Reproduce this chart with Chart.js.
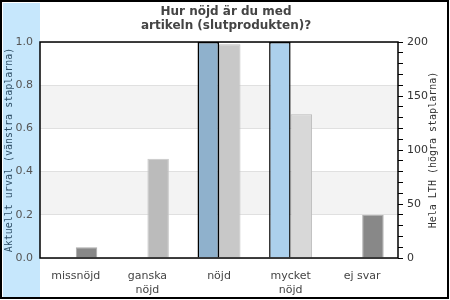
<!DOCTYPE html>
<html>
<head>
<meta charset="utf-8">
<script src="https://cdn.jsdelivr.net/npm/chart.js@4"></script>
<style>
  body { margin: 0; background: #fff; }
</style>
</head>
<body>
<canvas id="c" width="450" height="300"></canvas>
<script>
const categories = ["missnöjd", ["ganska", "nöjd"], "nöjd", ["mycket", "nöjd"], "ej svar"];
const urvalValues = [0, 0, 1, 1, 0];
const lthValues = [10, 92, 198, 133, 40];
const titleLines = ["Hur nöjd är du med", "artikeln (slutprodukten)?"];
const leftTitle = "Aktuellt urval (vänstra staplarna)";
const rightTitle = "Hela LTH (högra staplarna)";

// backgrounds, bands, frame and the rotated titles
const decor = {
  id: "decor",
  beforeDraw(chart) {
    const ctx = chart.ctx;
    const a = chart.chartArea;
    const y = chart.scales.y;
    ctx.save();
    ctx.fillStyle = "#fff";
    ctx.fillRect(0, 0, 450, 300);
    ctx.fillStyle = "#c6e7fc";
    ctx.fillRect(3, 3, a.left - 3, 294);
    ctx.strokeStyle = "#000";
    ctx.lineWidth = 2;
    ctx.strokeRect(1, 1, 447, 297);
    // alternating gray bands
    ctx.fillStyle = "#f3f3f3";
    [[0.6, 0.8], [0.2, 0.4]].forEach(([lo, hi]) => {
      const top = y.getPixelForValue(hi);
      const bot = y.getPixelForValue(lo);
      ctx.fillRect(a.left, top, a.right - a.left, bot - top);
    });
    ctx.restore();
  },
  afterDraw(chart) {
    const ctx = chart.ctx;
    const a = chart.chartArea;
    const midY = (a.top + a.bottom) / 2;
    ctx.save();
    ctx.strokeStyle = "#000";
    ctx.lineWidth = 1.5;
    ctx.strokeRect(a.left, a.top, a.right - a.left, a.bottom - a.top);

    ctx.fillStyle = "#444";
    ctx.font = "bold 12px 'DejaVu Sans'";
    ctx.textAlign = "center";
    ctx.textBaseline = "middle";
    ctx.fillText(titleLines[0], 226, 12);
    ctx.fillText(titleLines[1], 226, 26);

    ctx.font = "10px 'DejaVu Sans Mono'";
    ctx.fillStyle = "#2f4f66";
    ctx.translate(9, midY);
    ctx.rotate(-Math.PI / 2);
    ctx.fillText(leftTitle, 0, 0);
    ctx.restore();

    ctx.save();
    ctx.font = "10px 'DejaVu Sans Mono'";
    ctx.fillStyle = "#333";
    ctx.textAlign = "center";
    ctx.textBaseline = "middle";
    ctx.translate(433, midY);
    ctx.rotate(-Math.PI / 2);
    ctx.fillText(rightTitle, 0, 0);
    ctx.restore();
  }
};

new Chart(document.getElementById("c"), {
  type: "bar",
  data: {
    labels: categories,
    datasets: [
      {
        label: leftTitle,
        data: urvalValues,
        yAxisID: "y",
        backgroundColor: ["#8fb1cc", "#8fb1cc", "#8fb1cc", "#acd0ec", "#acd0ec"],
        borderColor: "#000",
        borderWidth: 1.5,
        borderSkipped: "bottom",
        categoryPercentage: 0.6,
        barPercentage: 1.0,
      },
      {
        label: rightTitle,
        data: lthValues,
        yAxisID: "y2",
        backgroundColor: ["#888888", "#bbbbbb", "#c8c8c8", "#d8d8d8", "#888888"],
        borderColor: ["#aaaaaa", "#c8c8c8", "#bbbbbb", "#bbbbbb", "#aaaaaa"],
        borderWidth: 1,
        borderSkipped: "bottom",
        categoryPercentage: 0.6,
        barPercentage: 1.0,
      },
    ],
  },
  options: {
    responsive: false,
    animation: false,
    layout: { padding: { top: 42, left: 0, right: 0, bottom: 0 } },
    plugins: {
      legend: { display: false },
      title: { display: false },
      tooltip: { enabled: false },
    },
    scales: {
      x: {
        grid: { display: false, drawTicks: false },
        border: { display: false },
        ticks: {
          color: "#444",
          font: { family: "DejaVu Sans", size: 11 },
          padding: 12,
          maxRotation: 0,
          autoSkip: false,
        },
        afterFit(scale) { scale.height = 42; },
      },
      y: {
        position: "left",
        min: 0,
        max: 1,
        ticks: {
          stepSize: 0.2,
          color: "#555",
          font: { family: "DejaVu Sans", size: 11 },
          padding: 7,
          callback: v => v.toFixed(1),
        },
        grid: { color: "#e0e0e0", drawTicks: false, lineWidth: 1 },
        border: { display: false },
        afterFit(scale) { scale.width = 40; },
      },
      y2: {
        position: "right",
        min: 0,
        max: 200,
        ticks: {
          stepSize: 10,
          color: "#333",
          font: { family: "DejaVu Sans", size: 11 },
          padding: 4,
          autoSkip: false,
          callback: v => (v % 50 === 0 ? String(v) : ""),
        },
        grid: { drawOnChartArea: false, drawTicks: true, tickLength: 5, color: "#000" },
        border: { display: false },
        afterFit(scale) { scale.width = 52; },
      },
    },
  },
  plugins: [decor],
});
</script>
</body>
</html>
